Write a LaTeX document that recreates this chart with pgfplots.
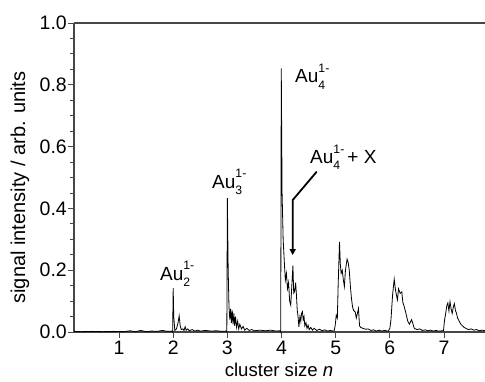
\documentclass[border=0pt]{standalone}
\usepackage{fontspec}
\setmainfont{Liberation Sans}
\usepackage{pgfplots}
\pgfplotsset{compat=1.18}
\usetikzlibrary{arrows.meta}
\newcommand\smallfs{\fontsize{12.2pt}{13pt}\selectfont}
\newcommand\Au[1]{Au\rlap{\raisebox{-0.32em}{\smallfs #1}}\raisebox{0.55em}{\smallfs 1-}}
\begin{document}
\fontsize{19pt}{22pt}\selectfont
\begin{tikzpicture}
\begin{axis}[
  at={(0,0)}, anchor=south west,
  scale only axis, width=413.4pt, height=309pt,
  xmin=0.169, xmax=7.8, ymin=0, ymax=1,
  xtick={1,2,3,4,5,6,7},
  ytick={0,0.2,0.4,0.6,0.8,1.0},
  minor y tick num=3,
  tick align=outside, tick pos=left,
  major tick length=6pt, minor tick length=3.5pt,
  separate axis lines,
  axis line style={draw=black!72, line width=1.3pt},
  every tick/.style={draw=black!72, line width=0.9pt},
  /pgf/number format/assume math mode=true,
  tick label style={font=\fontsize{19.5pt}{22pt}\selectfont},
  yticklabel style={/pgf/number format/fixed, /pgf/number format/fixed zerofill, /pgf/number format/precision=1, inner sep=1pt},
  xticklabel style={inner sep=1pt, yshift=-2pt},
  xlabel={cluster size \textit{n}},
  ylabel={signal intensity / arb. units},
  every axis x label/.style={at={(axis description cs:0.496,-0.1456)}, anchor=base, font=\fontsize{18.6pt}{22pt}\selectfont},
  every axis y label/.style={at={(axis description cs:-0.1306,0.4677)}, rotate=90, anchor=center, font=\fontsize{20pt}{22pt}\selectfont},
  clip=false,
]
\addplot[black, line width=0.8pt] coordinates {
(0.17,0.002)(0.3,0.001)(0.5,0.002)(0.7,0.001)(0.9,0.002)(1.1,0.001)(1.2,0.004)(1.3,0.001)(1.4,0.005)(1.5,0.001)(1.6,0.003)(1.7,0.002)(1.8,0.005)(1.9,0.002)(1.98,0.003)
(1.99,0.0)(2.0,0.142)(2.01,0.05)(2.03,0.005)(2.06,0.01)(2.09,0.03)(2.11,0.052)(2.13,0.02)(2.15,0.008)(2.18,0.01)(2.2,0.005)(2.22,0.017)(2.24,0.006)(2.27,0.01)(2.3,0.004)(2.35,0.008)(2.4,0.003)(2.45,0.006)(2.5,0.003)(2.6,0.005)(2.7,0.003)(2.8,0.004)(2.9,0.002)(2.98,0.003)
(2.99,0.0)(3.0,0.433)(3.015,0.2)(3.03,0.082)(3.045,0.04)(3.06,0.075)(3.075,0.03)(3.09,0.07)(3.105,0.025)(3.12,0.06)(3.135,0.02)(3.15,0.05)(3.17,0.015)(3.19,0.035)(3.21,0.01)(3.23,0.025)(3.26,0.01)(3.29,0.018)(3.32,0.006)(3.36,0.012)(3.4,0.005)(3.45,0.008)(3.5,0.004)(3.6,0.006)(3.7,0.004)(3.8,0.006)(3.9,0.003)(3.975,0.004)
(3.985,0)(3.995,0.853)(4.01,0.45)(4.03,0.30)(4.05,0.23)(4.07,0.168)(4.09,0.19)(4.11,0.14)(4.13,0.16)(4.15,0.10)(4.17,0.087)(4.19,0.15)(4.21,0.215)(4.225,0.126)(4.24,0.13)(4.26,0.16)(4.275,0.12)(4.29,0.07)(4.305,0.05)(4.32,0.017)(4.34,0.05)(4.355,0.035)(4.37,0.06)(4.385,0.066)(4.40,0.04)(4.415,0.05)(4.43,0.02)(4.45,0.03)(4.47,0.012)(4.49,0.022)(4.51,0.008)(4.54,0.015)(4.57,0.006)(4.6,0.012)(4.65,0.005)(4.7,0.009)(4.75,0.004)(4.8,0.007)(4.85,0.003)(4.9,0.005)(4.95,0.003)
(4.97,0.003)(4.99,0.02)(5.01,0.055)(5.03,0.045)(5.045,0.15)(5.07,0.292)(5.085,0.22)(5.10,0.19)(5.12,0.20)(5.14,0.17)(5.16,0.147)(5.18,0.2)(5.21,0.236)(5.23,0.225)(5.25,0.2)(5.27,0.15)(5.29,0.11)(5.31,0.082)(5.33,0.07)(5.36,0.065)(5.38,0.045)(5.40,0.06)(5.42,0.076)(5.44,0.02)(5.46,0.015)(5.5,0.012)(5.55,0.009)(5.6,0.01)(5.65,0.005)(5.7,0.007)(5.75,0.003)(5.8,0.006)(5.85,0.003)(5.9,0.005)(5.96,0.003)
(5.97,0.003)(6.0,0.012)(6.02,0.04)(6.05,0.12)(6.08,0.171)(6.10,0.14)(6.12,0.12)(6.14,0.104)(6.16,0.14)(6.19,0.125)(6.22,0.13)(6.24,0.095)(6.26,0.085)(6.29,0.065)(6.31,0.05)(6.33,0.035)(6.36,0.025)(6.40,0.04)(6.42,0.03)(6.45,0.012)(6.5,0.008)(6.55,0.01)(6.6,0.005)(6.65,0.007)(6.7,0.004)(6.75,0.006)(6.8,0.003)(6.85,0.005)(6.9,0.003)(6.97,0.004)
(6.99,0.005)(7.01,0.04)(7.03,0.06)(7.05,0.085)(7.07,0.094)(7.09,0.068)(7.11,0.098)(7.13,0.075)(7.15,0.06)(7.17,0.08)(7.19,0.092)(7.21,0.07)(7.23,0.06)(7.25,0.045)(7.28,0.035)(7.31,0.025)(7.34,0.02)(7.37,0.015)(7.4,0.012)(7.45,0.008)(7.5,0.01)(7.55,0.006)(7.6,0.008)(7.65,0.004)(7.7,0.006)(7.76,0.004)
};
\node[anchor=base west, inner sep=0pt] at (axis cs:1.757,0.168) {\Au{2}};
\node[anchor=base west, inner sep=0pt] at (axis cs:2.717,0.466) {\Au{3}};
\node[anchor=base west, inner sep=0pt] at (axis cs:4.249,0.806) {\Au{4}};
\node[anchor=base west, inner sep=0pt] at (axis cs:4.526,0.544) {\Au{4}\,+ X};
\draw[line width=1.8pt, -{Triangle[length=6pt,width=6pt]}] (axis cs:4.65,0.519) -- (axis cs:4.206,0.427) -- (axis cs:4.206,0.249);
\end{axis}
\pgfresetboundingbox
\path[use as bounding box] (-74pt,-49pt) rectangle (411pt,332pt);
\end{tikzpicture}
\end{document}
